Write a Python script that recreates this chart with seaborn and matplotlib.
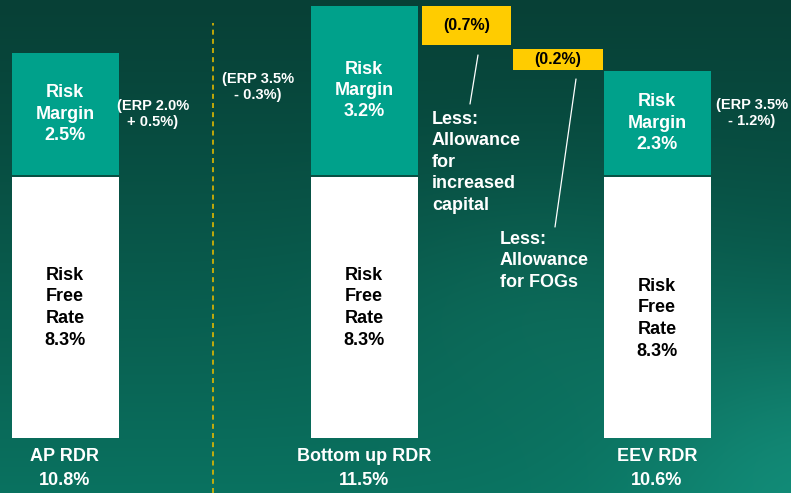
import numpy as np
import pandas as pd
import matplotlib
matplotlib.use("Agg")
import matplotlib.pyplot as plt
import seaborn as sns

# values shown on the slide
models = ["AP RDR", "Bottom up RDR", "EEV RDR"]
total_rdr = ["10.8%", "11.5%", "10.6%"]
risk_free = [8.3, 8.3, 8.3]
risk_margin = [2.5, 3.2, 2.3]
erp_notes = ["(ERP 2.0%\n+ 0.5%)", "(ERP 3.5%\n- 0.3%)", "(ERP 3.5%\n- 1.2%)"]
adjustments = [-0.7, -0.2]
adjust_notes = ["Less:\nAllowance\nfor\nincreased\ncapital", "Less:\nAllowance\nfor FOGs"]

# the slide does not draw the margin blocks / deductions to scale,
# these are the heights as drawn (same units as the risk free block)
margin_drawn = [3.9, 5.4, 3.33]
adjust_top_drawn = [13.76, 12.39]
adjust_drawn = [1.24, 0.67]

W, H = 791, 493
BASE = 438          # pixel row of the bar baseline
PX = 31.4           # pixels per unit on the y axis
bar_x = [65, 364, 657]
adj_x = [466.5, 558]
rf_label_shift = [0, 0, -11]   # px, EEV label sits a bit lower
TEAL = "#00a18b"
YELLOW = "#ffcc00"

def py(row):
    # pixel row -> y data value
    return (BASE - row) / PX

sns.set_style("white")
plt.rcParams["font.family"] = ["Liberation Sans", "DejaVu Sans"]
plt.rcParams["font.weight"] = "bold"

fig = plt.figure(figsize=(W / 100, H / 100), dpi=100)

# background gradient
bg = fig.add_axes([0, 0, 1, 1], zorder=-1)
yy, xx = np.mgrid[0:H, 0:W]
t = (yy / H) ** 1.1
top = np.array([7, 64, 54]) / 255
bot = np.array([10, 114, 96]) / 255
img = top + (bot - top) * t[..., None]
glow = np.exp(-(((xx - 820) / 190) ** 2 + ((yy - 470) / 150) ** 2))
img = img + glow[..., None] * np.array([8, 26, 24]) / 255
glow2 = np.exp(-(((xx - 540) / 170) ** 2 + ((yy - 300) / 120) ** 2))
img = img + glow2[..., None] * np.array([3, 10, 8]) / 255
bg.imshow(np.clip(img, 0, 1), aspect="auto", extent=(0, W, H, 0))
bg.axis("off")

ax = fig.add_axes([0, (H - BASE) / H, 1, BASE / H])
ax.set_facecolor("none")

df = pd.DataFrame({"model": models, "x": bar_x, "rf": risk_free,
                   "rm": risk_margin, "rm_drawn": margin_drawn})
gap = 2 / PX
w_main = 107 / np.diff(sorted(bar_x)).min()

sns.barplot(data=df, x="x", y="rf", native_scale=True, orient="x", ax=ax,
            color="white", saturation=1, width=w_main, errorbar=None,
            edgecolor="none", linewidth=0)
sns.barplot(data=df, x="x", y="rm_drawn", native_scale=True, orient="x", ax=ax,
            color=TEAL, saturation=1, width=w_main, errorbar=None,
            edgecolor="none", linewidth=0, bottom=df["rf"] + gap)

adj = pd.DataFrame({"x": adj_x, "h": adjust_drawn,
                    "bottom": np.array(adjust_top_drawn) - np.array(adjust_drawn)})
sns.barplot(data=adj, x="x", y="h", native_scale=True, orient="x", ax=ax,
            color=YELLOW, saturation=1, width=89.5 / np.diff(adj_x).min(),
            errorbar=None, edgecolor="none", linewidth=0, bottom=adj["bottom"])

# labels inside the bars
for i, r in df.iterrows():
    ax.text(r["x"], r["rf"] / 2 + rf_label_shift[i] / PX,
            f"Risk\nFree\nRate\n{r['rf']:.1f}%", ha="center",
            va="center", fontsize=13, color="black", linespacing=1.36)
    ax.text(r["x"], r["rf"] + gap + r["rm_drawn"] / 2, f"Risk\nMargin\n{r['rm']:.1f}%",
            ha="center", va="center", fontsize=13, color="white", linespacing=1.33)

for (xp, yp), note in zip([(153, 114), (258, 87), (752, 113)], erp_notes):
    ax.text(xp, py(yp), note, ha="center", va="center", fontsize=10.5,
            color="white", linespacing=1.25)

for i, v in enumerate(adjustments):
    ax.text(adj_x[i], adjust_top_drawn[i] - adjust_drawn[i] / 2, f"({abs(v):.1f}%)",
            ha="center", va="center", fontsize=11.5, color="black")

ax.text(432, py(111), adjust_notes[0], ha="left", va="top", fontsize=13,
        color="white", linespacing=1.34)
ax.text(500, py(231), adjust_notes[1], ha="left", va="top", fontsize=13,
        color="white", linespacing=1.34)
ax.plot([478, 470], [py(55), py(104)], color="white", lw=0.9, clip_on=False)
ax.plot([576, 555], [py(79), py(227)], color="white", lw=0.9, clip_on=False)

# dashed separator
ax.axvline(213, ymin=-(H - BASE) / BASE, ymax=(BASE - 23) / BASE, color="#e0b800",
           lw=1.2, ls=(0, (3, 2.5)), clip_on=False)

ax.set_xlim(0, W)
ax.set_ylim(0, BASE / PX)
ax.set_xticks(bar_x)
ax.set_xticklabels([f"{m}\n{t}" for m, t in zip(models, total_rdr)],
                   fontsize=13, color="white", linespacing=1.55)
ax.tick_params(axis="x", length=0, pad=7)
ax.set_yticks([])
ax.set_xlabel("")
ax.set_ylabel("")
sns.despine(ax=ax, left=True, bottom=True)

fig.savefig("out.png", dpi=100)
